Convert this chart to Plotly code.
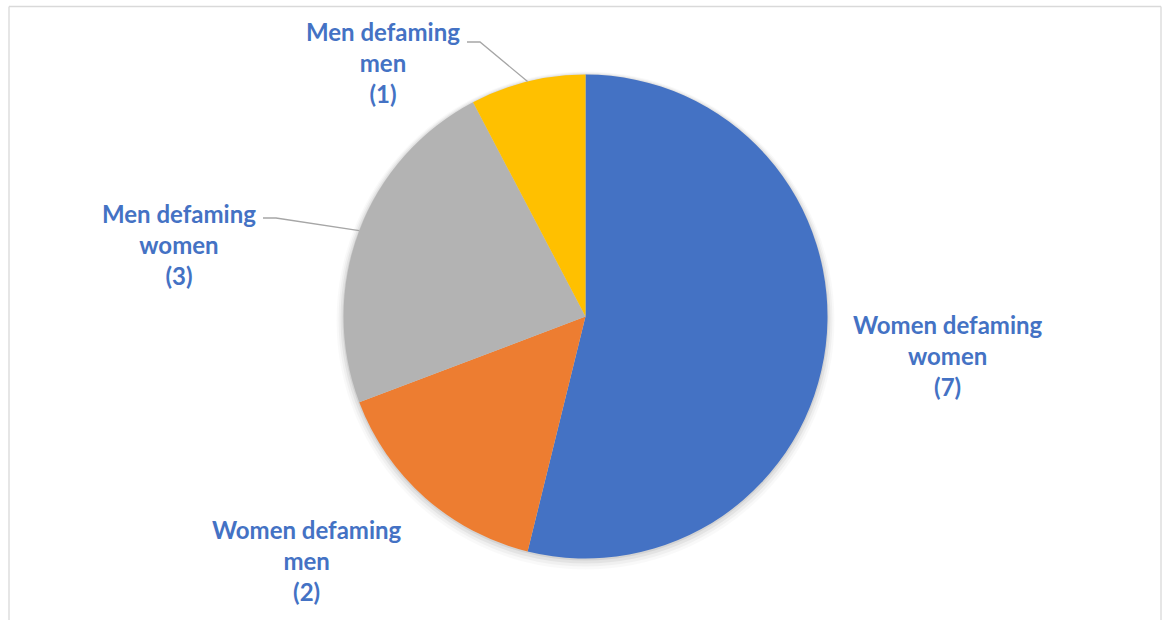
import math
import plotly.graph_objects as go

# ---- data ----
categories = ["Women defaming women", "Women defaming men", "Men defaming women", "Men defaming men"]
label_lines = [["Women defaming", "women"], ["Women defaming", "men"], ["Men defaming", "women"], ["Men defaming", "men"]]
values = [7, 2, 3, 1]
colors = ["#4472C4", "#ED7D31", "#B3B3B3", "#FFC000"]

# ---- layout geometry (pixels) ----
W, H = 1162, 620
CX, CY, R = 585.5, 316.5, 242
# label block centres (pixels) and whether a leader line is drawn
label_pos = [(948, 355), (307, 560), (179, 244), (383, 63)]
leader_start = [None, None, (263, 218), (467, 42)]
LABEL_COLOR = "#4472C4"


def px_x(x):
    return x / W


def px_y(y):
    return 1 - y / H


fig = go.Figure()
fig.add_trace(go.Pie(
    labels=categories,
    values=values,
    sort=False,
    direction="clockwise",
    rotation=0,
    marker=dict(colors=colors, line=dict(width=0)),
    textinfo="none",
    hoverinfo="label+value",
    showlegend=False,
    domain=dict(x=[px_x(CX - R), px_x(CX + R)], y=[px_y(CY + R), px_y(CY - R)]),
))

shapes = []
# soft shadow
for i, (grow, dy, a) in enumerate([(7, 4, 0.025), (5, 3, 0.035), (3, 2, 0.05), (1, 1, 0.07)]):
    shapes.append(dict(type="circle", xref="paper", yref="paper", layer="below",
                       x0=px_x(CX - R - grow), x1=px_x(CX + R + grow),
                       y0=px_y(CY + R + grow + dy), y1=px_y(CY - R - grow + dy),
                       fillcolor=f"rgba(0,0,0,{a})", line=dict(width=0)))

# chart frame
frame = "#D9D9D9"
shapes.append(dict(type="line", xref="paper", yref="paper", x0=px_x(9), x1=px_x(1161), y0=px_y(6.5), y1=px_y(6.5), line=dict(color=frame, width=1.3)))
shapes.append(dict(type="line", xref="paper", yref="paper", x0=px_x(9), x1=px_x(9), y0=px_y(6.5), y1=0, line=dict(color=frame, width=1.3)))
shapes.append(dict(type="line", xref="paper", yref="paper", x0=px_x(1161), x1=px_x(1161), y0=px_y(6.5), y1=0, line=dict(color=frame, width=1.3)))

# labels + leader lines
total = sum(values)
cum = 0
annotations = []
for i, v in enumerate(values):
    mid = (cum + v / 2) / total * 2 * math.pi
    cum += v
    ax = CX + R * math.sin(mid)
    ay = CY - R * math.cos(mid)
    lx, ly = label_pos[i]
    text = "<br>".join(label_lines[i] + [f"({v})"])
    annotations.append(dict(x=px_x(lx), y=px_y(ly), xref="paper", yref="paper", text=text,
                            showarrow=False, align="center", xanchor="center", yanchor="middle",
                            font=dict(family="Lato", size=24, color=LABEL_COLOR, weight="bold")))
    if leader_start[i] is not None:
        sx, sy = leader_start[i]
        path = f"M {px_x(sx)},{px_y(sy)} L {px_x(sx + 13)},{px_y(sy)} L {px_x(ax)},{px_y(ay)}"
        shapes.append(dict(type="path", xref="paper", yref="paper", path=path,
                           line=dict(color="#A6A6A6", width=1.3)))

fig.update_layout(
    width=W, height=H,
    margin=dict(l=0, r=0, t=0, b=0),
    paper_bgcolor="white", plot_bgcolor="white",
    shapes=shapes, annotations=annotations,
)
fig.write_html("out.html")
